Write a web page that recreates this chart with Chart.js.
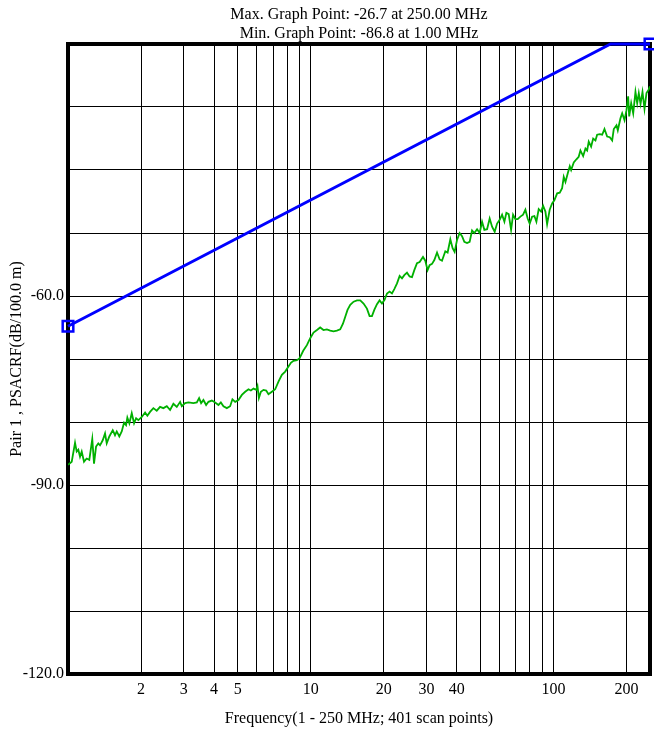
<!DOCTYPE html>
<html>
<head>
<meta charset="utf-8">
<title>PSACRF</title>
<script src="https://cdn.jsdelivr.net/npm/chart.js@4.4.0/dist/chart.umd.min.js"></script>
<style>
  body { margin: 0; background: #fff; }
  canvas { display: block; }
</style>
</head>
<body>
<canvas id="psacrf-chart" width="654" height="733"></canvas>
<script>
// Measured trace (MHz / dB per 100 m)
const freqs = [
  1.00, 1.036, 1.069, 1.086, 1.103, 1.121, 1.139, 1.164, 1.194, 1.224,
  1.259, 1.280, 1.305, 1.333, 1.355, 1.390, 1.421, 1.444, 1.480, 1.529,
  1.562, 1.588, 1.627, 1.665, 1.702, 1.735, 1.756, 1.790, 1.831, 1.872,
  1.908, 1.950, 2.014, 2.078, 2.123, 2.178, 2.248, 2.321, 2.395, 2.472,
  2.553, 2.634, 2.718, 2.807, 2.897, 2.944, 3.038, 3.134, 3.286, 3.394,
  3.469, 3.536, 3.614, 3.708, 3.790, 3.914, 4.039, 4.168, 4.264, 4.370,
  4.513, 4.656, 4.759, 4.884, 5.039, 5.204, 5.370, 5.541, 5.669, 5.810,
  5.962, 6.035, 6.116, 6.233, 6.390, 6.555, 6.699, 6.918, 7.139, 7.366,
  7.607, 7.849, 8.098, 8.285, 8.492, 8.771, 8.990, 9.314, 9.645, 9.954,
  10.27, 10.61, 10.94, 11.29, 11.66, 12.03, 12.42, 12.82, 13.23, 13.58,
  13.88, 14.18, 14.55, 15.02, 15.51, 16.00, 16.51, 17.05, 17.48, 17.88,
  18.28, 18.75, 19.22, 19.66, 20.15, 20.62, 21.13, 21.62, 22.10, 22.68,
  23.25, 23.78, 24.30, 24.93, 25.55, 26.14, 26.72, 27.41, 28.10, 29.01,
  29.66, 30.31, 30.90, 31.61, 32.31, 33.15, 33.98, 34.75, 35.86, 36.65,
  37.61, 38.43, 39.17, 40.08, 41.08, 42.03, 42.95, 44.07, 45.17, 46.21,
  47.23, 48.47, 49.68, 50.82, 51.94, 53.29, 54.62, 55.88, 57.28, 58.60,
  60.07, 61.45, 62.81, 64.00, 65.42, 66.93, 68.20, 69.71, 71.25, 73.10,
  74.99, 76.65, 78.34, 79.85, 81.69, 83.48, 85.09, 86.97, 88.98, 90.69,
  92.68, 94.19, 96.54, 98.76, 100.9, 103.6, 106.2, 108.6, 110.3, 112.1,
  114.6, 116.8, 118.3, 121.3, 124.4, 127.1, 129.2, 132.6, 135.5, 137.7,
  139.8, 143.0, 145.8, 149.0, 151.4, 155.2, 158.8, 162.3, 166.5, 170.7,
  174.6, 177.3, 181.9, 184.2, 188.9, 192.0, 196.3, 200.0, 203.2, 205.2,
  209.1, 213.2, 217.8, 221.4, 224.8, 228.5, 232.8, 237.3, 241.8, 247.2,
  250.0
];
const psacrf = [
  -86.8, -86.3, -83.3, -84.7, -84.4, -85.5, -84.7, -86.3, -85.8, -86.0,
  -82.7, -86.6, -83.9, -83.4, -83.7, -82.9, -81.8, -83.4, -82.3, -81.3,
  -82.1, -81.5, -82.3, -81.5, -80.1, -80.5, -79.3, -80.2, -78.6, -80.2,
  -79.4, -79.7, -79.2, -78.5, -79.0, -78.4, -77.8, -78.2, -77.6, -77.8,
  -77.5, -78.1, -77.1, -77.6, -76.8, -77.5, -77.0, -76.9, -77.0, -76.9,
  -76.2, -77.0, -76.5, -77.3, -76.8, -76.6, -76.9, -77.3, -76.9, -77.5,
  -77.8, -77.5, -76.4, -76.8, -76.5, -75.7, -75.2, -74.8, -75.0, -74.7,
  -74.9, -74.3, -76.2, -75.2, -74.9, -75.0, -75.6, -75.2, -74.8, -73.6,
  -72.5, -72.0, -71.2, -70.6, -70.3, -70.2, -69.9, -68.7, -67.8, -66.7,
  -65.8, -65.4, -65.0, -65.4, -65.3, -65.5, -65.6, -65.5, -65.3, -64.4,
  -63.3, -62.2, -61.4, -60.9, -60.7, -60.7, -61.2, -62.0, -63.2, -63.2,
  -62.2, -61.3, -60.7, -61.2, -60.6, -59.6, -59.3, -59.6, -58.9, -58.0,
  -56.8, -57.2, -56.7, -56.3, -56.9, -57.0, -55.9, -54.8, -54.6, -53.8,
  -54.4, -55.9, -55.1, -54.9, -54.3, -53.1, -54.2, -54.4, -52.9, -53.1,
  -51.0, -52.4, -53.0, -51.1, -50.0, -50.5, -51.4, -51.6, -51.4, -49.6,
  -50.0, -49.4, -50.0, -48.2, -49.5, -49.4, -47.7, -49.0, -49.8, -48.5,
  -47.9, -47.1, -48.2, -46.8, -47.0, -49.5, -47.1, -47.8, -47.8, -47.4,
  -47.1, -46.3, -47.7, -48.5, -47.4, -47.3, -48.2, -46.2, -46.6, -45.7,
  -46.6, -48.6, -46.3, -45.3, -44.8, -43.7, -43.6, -42.9, -41.1, -41.9,
  -40.5, -39.4, -40.0, -38.8, -38.3, -37.9, -36.9, -37.8, -36.6, -36.9,
  -35.5, -36.3, -35.0, -35.3, -34.4, -34.3, -34.4, -33.5, -34.7, -34.8,
  -35.3, -33.5, -32.9, -33.7, -31.8, -31.0, -32.1, -30.5, -28.3, -31.5,
  -29.4, -31.0, -27.6, -29.4, -27.8, -29.5, -27.6, -30.3, -27.8, -27.2,
  -26.7
];

// Limit line corners
const limitFreqs = [1, 172, 250];
const limitDb = [-64.8, -20, -20];

// Axis ticks
const xGridValues = [1, 2, 3, 4, 5, 6, 7, 8, 9, 10, 20, 30, 40, 50, 60, 70, 80, 90, 100, 200];
const xLabelValues = [2, 3, 4, 5, 10, 20, 30, 40, 100, 200];
const yLabelValues = [-120, -90, -60];

const headerLines = [
    "Max. Graph Point: -26.7 at 250.00 MHz",
    "Min. Graph Point: -86.8 at 1.00 MHz"
];

const serif = "'Liberation Serif', 'Times New Roman', serif";
const textSize = 16;

// Thick frame round the plot area, drawn under the traces
const framePlugin = {
    id: "frame",
    beforeDatasetsDraw(chart) {
        const { ctx, chartArea: a } = chart;
        ctx.save();
        ctx.strokeStyle = "#000";
        ctx.lineWidth = 4;
        ctx.strokeRect(a.left, a.top, a.right - a.left, a.bottom - a.top);
        ctx.restore();
    }
};

// Max / min lines above the plot, centred on the plot area
const headerPlugin = {
    id: "header",
    afterDraw(chart) {
        const { ctx, chartArea: a } = chart;
        const cx = (a.left + a.right) / 2;
        ctx.save();
        ctx.fillStyle = "#000";
        ctx.font = textSize + "px " + serif;
        ctx.textAlign = "center";
        ctx.textBaseline = "middle";
        ctx.fillText(headerLines[0], cx, 15);
        ctx.fillText(headerLines[1], cx, 34);
        ctx.restore();
    }
};

const ctx = document.getElementById("psacrf-chart");

new Chart(ctx, {
    type: "line",
    data: {
        datasets: [
            {
                label: "Limit",
                data: limitFreqs.map((f, i) => ({ x: f, y: limitDb[i] })),
                borderColor: "#0000ff",
                borderWidth: 3,
                backgroundColor: "transparent",
                pointStyle: "rect",
                pointRadius: [7.5, 0, 7.5],
                pointBorderWidth: 2.5,
                pointBorderColor: "#0000ff",
                pointBackgroundColor: "transparent",
                clip: false,
                tension: 0
            },
            {
                label: "Pair 1",
                data: freqs.map((f, i) => ({ x: f, y: psacrf[i] })),
                borderColor: "#00b000",
                borderWidth: 1.8,
                pointRadius: 0,
                tension: 0
            }
        ]
    },
    options: {
        responsive: false,
        animation: false,
        layout: {
            autoPadding: false,
            padding: { top: 44, right: 4, left: 0, bottom: 0 }
        },
        plugins: {
            legend: { display: false },
            tooltip: { enabled: false }
        },
        scales: {
            x: {
                type: "logarithmic",
                min: 1,
                max: 250,
                afterBuildTicks: (scale) => {
                    scale.ticks = xGridValues.map((v) => ({ value: v }));
                },
                afterFit: (scale) => {
                    scale.height = 59;
                    scale.paddingLeft = 0;
                    scale.paddingRight = 0;
                },
                grid: { color: "#000", lineWidth: 1, drawTicks: false },
                border: { display: false },
                ticks: {
                    autoSkip: false,
                    maxRotation: 0,
                    padding: 6,
                    color: "#000",
                    font: { family: serif, size: textSize },
                    callback: (value) => xLabelValues.includes(value) ? String(value) : ""
                },
                title: {
                    display: true,
                    text: "Frequency(1 - 250 MHz; 401 scan points)",
                    color: "#000",
                    font: { family: serif, size: textSize },
                    padding: { top: 0, bottom: 5 }
                }
            },
            y: {
                min: -120,
                max: -20,
                afterFit: (scale) => {
                    scale.width = 68;
                    scale.paddingTop = 0;
                    scale.paddingBottom = 0;
                },
                grid: { color: "#000", lineWidth: 1, drawTicks: false },
                border: { display: false },
                ticks: {
                    stepSize: 10,
                    padding: 4,
                    color: "#000",
                    font: { family: serif, size: textSize },
                    callback: (value) => yLabelValues.includes(value) ? value.toFixed(1) : ""
                },
                title: {
                    display: true,
                    text: "Pair 1 , PSACRF(dB/100.0 m)",
                    color: "#000",
                    font: { family: serif, size: textSize },
                    padding: { top: 7, bottom: 0 }
                }
            }
        }
    },
    plugins: [framePlugin, headerPlugin]
});
</script>
</body>
</html>
